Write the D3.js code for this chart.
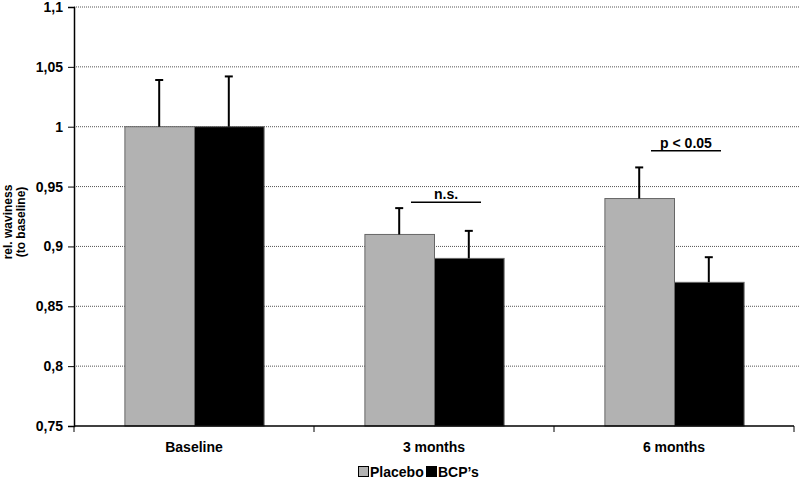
<!DOCTYPE html>
<html><head><meta charset="utf-8">
<script src="https://cdn.jsdelivr.net/npm/d3@7"></script>
<style>body{margin:0;background:#fff}text{font-family:"Liberation Sans",Arial,sans-serif;font-weight:bold}</style>
</head><body>
<svg id="c" width="800" height="480"></svg>
<script>
const categories = ["Baseline", "3 months", "6 months"];
const seriesNames = ["Placebo", "BCP\u2019s"];
const placebo = [1.0, 0.91, 0.94];
const bcp = [1.0, 0.89, 0.87];
const placeboErr = [0.039, 0.022, 0.026];
const bcpErr = [0.042, 0.023, 0.021];
const yTicks = [0.75, 0.8, 0.85, 0.9, 0.95, 1.0, 1.05, 1.1];
const annotations = [{cat: "3 months", text: "n.s.", level: 0.937}, {cat: "6 months", text: "p < 0.05", level: 0.98}];

const svg = d3.select("#c");
const m = {l: 74, r: 6, t: 7, b: 54};
const W = 800, H = 480;
const x = d3.scaleBand().domain(categories).range([m.l, W - m.r]).paddingInner(0.42).paddingOuter(0.21);
const xs = d3.scaleBand().domain(seriesNames).range([0, x.bandwidth()]);
const y = d3.scaleLinear().domain([0.75, 1.1]).range([H - m.b, m.t]);
const colors = ["#b2b2b2", "#000000"];

// gridlines
svg.append("g").selectAll("line").data(yTicks.filter(d => d > 0.75)).join("line")
  .attr("x1", m.l).attr("x2", W - 1).attr("y1", d => y(d)).attr("y2", d => y(d))
  .attr("stroke", "#555").attr("stroke-width", 1).attr("stroke-dasharray", "1,1");

const data = categories.map((c, i) => ({c, vals: [
  {s: seriesNames[0], v: placebo[i], e: placeboErr[i]},
  {s: seriesNames[1], v: bcp[i], e: bcpErr[i]}]}));

const g = svg.append("g").selectAll("g").data(data).join("g").attr("transform", d => `translate(${x(d.c)},0)`);
g.selectAll("rect").data(d => d.vals).join("rect")
  .attr("x", d => xs(d.s) + 0.5).attr("width", xs.bandwidth())
  .attr("y", d => y(d.v)).attr("height", d => y(0.75) - y(d.v))
  .attr("fill", (d, i) => colors[i]).attr("stroke", "#666").attr("stroke-width", 1);
// error bars
g.selectAll("line.e").data(d => d.vals).join("line").attr("class", "e")
  .attr("x1", d => xs(d.s) + xs.bandwidth() / 2).attr("x2", d => xs(d.s) + xs.bandwidth() / 2)
  .attr("y1", d => y(d.v)).attr("y2", d => y(d.v + d.e)).attr("stroke", "#000").attr("stroke-width", 2);
g.selectAll("line.c").data(d => d.vals).join("line").attr("class", "c")
  .attr("x1", d => xs(d.s) + xs.bandwidth() / 2 - 4).attr("x2", d => xs(d.s) + xs.bandwidth() / 2 + 4)
  .attr("y1", d => y(d.v + d.e)).attr("y2", d => y(d.v + d.e)).attr("stroke", "#000").attr("stroke-width", 2);

// y axis
const ya = svg.append("g").attr("transform", `translate(${m.l},0)`)
  .call(d3.axisLeft(y).tickValues(yTicks).tickSize(6).tickFormat(d => d3.format("")(+d.toFixed(2)).replace(".", ",")));
ya.select(".domain").attr("stroke", "#000").attr("stroke-width", 1.5);
ya.selectAll(".tick line").attr("stroke", "#000");
ya.selectAll("text").attr("font-size", 14).attr("fill", "#000").attr("font-family", "Liberation Sans").attr("font-weight", "bold").attr("dx", -2);

// x axis
const xa = svg.append("g").attr("transform", `translate(0,${y(0.75)})`);
xa.append("line").attr("x1", m.l).attr("x2", W - m.r).attr("stroke", "#000").attr("stroke-width", 1.5);
const bounds = [m.l, ...categories.slice(1).map(c => x(c) - x.step() * x.paddingInner() / 2), W - m.r];
xa.selectAll("line.t").data(bounds).join("line").attr("class", "t").attr("x1", d => d).attr("x2", d => d).attr("y1", 0).attr("y2", 6).attr("stroke", "#000");
xa.selectAll("text").data(categories).join("text")
  .attr("x", d => x(d) + x.bandwidth() / 2).attr("y", 26).attr("text-anchor", "middle").attr("font-size", 14).text(d => d);

// annotations
annotations.forEach(a => {
  const cx = x(a.cat) + x.bandwidth() / 2;
  svg.append("line").attr("x1", cx - 23).attr("x2", cx + 47).attr("y1", y(a.level)).attr("y2", y(a.level)).attr("stroke", "#000").attr("stroke-width", 1.5);
  svg.append("text").attr("x", cx + 12).attr("y", y(a.level) - 3).attr("text-anchor", "middle").attr("font-size", 14).text(a.text);
});

// y title
svg.append("text").attr("transform", "translate(12,222) rotate(-90)").attr("text-anchor", "middle").attr("font-size", 12).text("rel. waviness");
svg.append("text").attr("transform", "translate(25,222) rotate(-90)").attr("text-anchor", "middle").attr("font-size", 12).text("(to baseline)");

// legend
const lg = svg.append("g").attr("transform", "translate(358,466)");
const items = [{n: seriesNames[0], x: 0}, {n: seriesNames[1], x: 68}];
items.forEach((it, i) => {
  lg.append("rect").attr("x", it.x + 0.5).attr("y", 0.5).attr("width", 10).attr("height", 10).attr("fill", colors[i]).attr("stroke", "#000").attr("stroke-width", 1);
  lg.append("text").attr("x", it.x + 12).attr("y", 10.5).attr("font-size", 14).text(it.n);
});
</script>
</body></html>
